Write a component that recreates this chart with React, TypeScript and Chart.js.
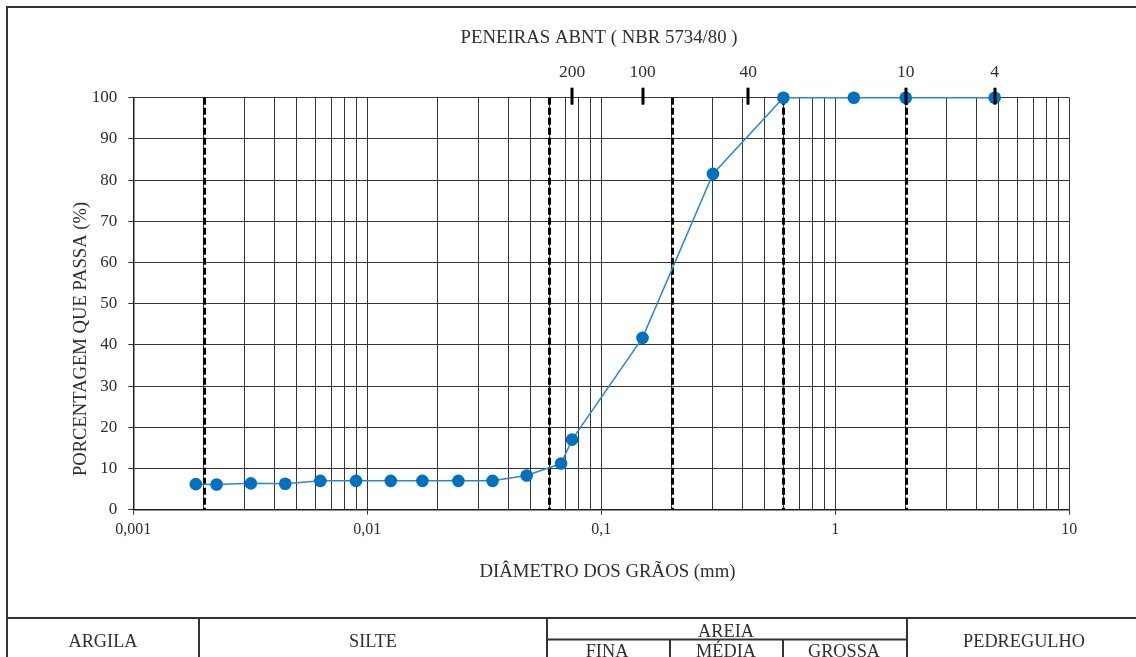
import React, { useEffect, useRef } from "react";
import { Chart, registerables } from "chart.js";

Chart.register(...registerables);

// ---- Data ----
const diameters = [
  0.00185, 0.00227, 0.00318, 0.00446, 0.0063, 0.00895, 0.0126, 0.0172, 0.0245,
  0.0343, 0.048, 0.0673, 0.075, 0.15, 0.3, 0.6, 1.2, 2.0, 4.8,
];
const percentPassing = [
  6.2, 6.1, 6.4, 6.3, 7.0, 7.0, 7.0, 7.0, 7.0, 7.0, 8.3, 11.2, 17.0, 41.7, 81.5,
  100, 100, 100, 100,
];

// Sieves (ABNT) shown on top axis
const sieveLabels = ["200", "100", "40", "10", "4"];
const sieveOpenings = [0.075, 0.15, 0.425, 2.0, 4.8];

// Soil fraction boundaries (dashed lines)
const boundaries = [0.002, 0.06, 0.2, 0.6, 2.0];

// Axis ticks
const decades = [0.001, 0.01, 0.1, 1];
const multipliers = [1, 2, 3, 4, 5, 6, 7, 8, 9];
const majorTickValues = [0.001, 0.01, 0.1, 1, 10];
const majorTickLabels = ["0,001", "0,01", "0,1", "1", "10"];
const yTickStep = 10;

const gridValues: number[] = [];
decades.forEach((d) =>
  multipliers.forEach((m) => gridValues.push(Number((d * m).toPrecision(6))))
);
gridValues.push(10);

const FONT = "'Liberation Serif', 'Times New Roman', serif";
const TEXT = "#2e2e2e";
const GRID = "#363636";

const isMajor = (v: number) =>
  majorTickValues.some((m) => Math.abs(m - v) / m < 1e-6);
const labelFor = (v: number) => {
  const i = majorTickValues.findIndex((m) => Math.abs(m - v) / m < 1e-6);
  return i >= 0 ? majorTickLabels[i] : "";
};

const decorPlugin = {
  id: "decor",
  beforeDraw(chart: any) {
    const ctx = chart.ctx;
    ctx.save();
    ctx.fillStyle = "#ffffff";
    ctx.fillRect(0, 0, chart.width, chart.height);
    ctx.restore();
  },
  beforeDatasetsDraw(chart: any) {
    const ctx = chart.ctx;
    const xs = chart.scales.x;
    const area = chart.chartArea;
    ctx.save();
    ctx.strokeStyle = "#000000";
    ctx.lineWidth = 3;
    ctx.setLineDash([7, 3]);
    boundaries.forEach((b) => {
      const px = Math.round(xs.getPixelForValue(b)) + 0.5;
      ctx.beginPath();
      ctx.moveTo(px, area.top);
      ctx.lineTo(px, area.bottom);
      ctx.stroke();
    });
    ctx.restore();
  },
  afterDraw(chart: any) {
    const ctx = chart.ctx;
    const xs = chart.scales.x;
    const area = chart.chartArea;
    ctx.save();

    // sieve ticks and labels
    sieveOpenings.forEach((s, i) => {
      const px = xs.getPixelForValue(s);
      ctx.fillStyle = "#000000";
      ctx.fillRect(Math.round(px) - 1.5, area.top - 10, 3, 17);
      ctx.font = `17.5px ${FONT}`;
      ctx.fillStyle = TEXT;
      ctx.textAlign = "center";
      ctx.textBaseline = "alphabetic";
      ctx.fillText(sieveLabels[i], px, 77);
    });

    // titles
    ctx.fillStyle = TEXT;
    ctx.textAlign = "center";
    ctx.textBaseline = "alphabetic";
    ctx.font = `18.8px ${FONT}`;
    ctx.fillText("PENEIRAS ABNT ( NBR 5734/80 )", 599, 43);
    ctx.fillText("DIÂMETRO DOS GRÃOS (mm)", 607.5, 577);

    ctx.save();
    ctx.translate(86, 339);
    ctx.rotate(-Math.PI / 2);
    ctx.font = `18.6px ${FONT}`;
    ctx.fillText("PORCENTAGEM QUE PASSA (%)", 0, 0);
    ctx.restore();

    // outer frame + table
    ctx.strokeStyle = "#333333";
    ctx.lineWidth = 2;
    ctx.beginPath();
    ctx.moveTo(7, 657);
    ctx.lineTo(7, 7);
    ctx.lineTo(1136, 7);
    ctx.stroke();

    ctx.lineWidth = 2;
    ctx.beginPath();
    ctx.moveTo(7, 618);
    ctx.lineTo(1136, 618);
    ctx.moveTo(199, 618);
    ctx.lineTo(199, 657);
    ctx.moveTo(547, 618);
    ctx.lineTo(547, 657);
    ctx.moveTo(907, 618);
    ctx.lineTo(907, 657);
    ctx.moveTo(547, 639.5);
    ctx.lineTo(907, 639.5);
    ctx.moveTo(670, 639.5);
    ctx.lineTo(670, 657);
    ctx.moveTo(783, 639.5);
    ctx.lineTo(783, 657);
    ctx.stroke();

    ctx.fillStyle = TEXT;
    ctx.font = `18.3px ${FONT}`;
    ctx.fillText("ARGILA", 103, 647);
    ctx.fillText("SILTE", 373, 647);
    ctx.fillText("AREIA", 726, 637);
    ctx.fillText("FINA", 607, 657);
    ctx.fillText("MÉDIA", 726, 657);
    ctx.fillText("GROSSA", 844, 657);
    ctx.fillText("PEDREGULHO", 1024, 647);

    ctx.restore();
  },
};

export default function App() {
  const canvasRef = useRef<HTMLCanvasElement | null>(null);

  useEffect(() => {
    if (!canvasRef.current) return;
    const points = diameters.map((x, i) => ({ x, y: percentPassing[i] }));
    const chart = new Chart(canvasRef.current, {
      type: "line",
      data: {
        datasets: [
          {
            data: points,
            borderColor: "#2B87D3",
            borderWidth: 1.5,
            pointBackgroundColor: "#0070C0",
            pointBorderColor: "#0070C0",
            pointBorderWidth: 0,
            pointRadius: 6.3,
            tension: 0,
            clip: false as any,
          },
        ],
      },
      options: {
        responsive: false,
        animation: false,
        devicePixelRatio: 1,
        layout: { padding: { left: 0, right: 66.7, top: 97.7, bottom: 0 } },
        plugins: {
          legend: { display: false },
          tooltip: { enabled: false },
          title: { display: false },
        },
        scales: {
          x: {
            type: "logarithmic",
            min: 0.001,
            max: 10,
            afterBuildTicks: (s: any) => {
              s.ticks = gridValues.map((v) => ({ value: v, major: isMajor(v) }));
            },
            afterFit: (s: any) => {
              s.height = 657 - 509.7;
            },
            ticks: {
              autoSkip: false,
              maxRotation: 0,
              minRotation: 0,
              padding: 5,
              color: TEXT,
              font: { family: FONT, size: 16 },
              callback: (v: any) => labelFor(Number(v)),
            },
            grid: {
              color: GRID,
              lineWidth: 1,
              tickLength: 5,
              tickColor: (c: any) =>
                c.tick && isMajor(c.tick.value) ? "#333333" : "rgba(0,0,0,0)",
            },
            border: { color: "#1e1e1e", width: 1.5 },
          },
          y: {
            min: 0,
            max: 100,
            afterFit: (s: any) => {
              s.width = 133.3;
            },
            ticks: {
              stepSize: yTickStep,
              padding: 11,
              color: TEXT,
              font: { family: FONT, size: 17 },
            },
            grid: {
              color: GRID,
              lineWidth: 1,
              tickLength: 5,
              tickColor: "#333333",
            },
            border: { color: "#1e1e1e", width: 1.5 },
          },
        },
      },
      plugins: [decorPlugin],
    } as any);
    return () => chart.destroy();
  }, []);

  return (
    <div
      style={{
        position: "absolute",
        left: 0,
        top: 0,
        width: 1136,
        height: 657,
        background: "#ffffff",
        overflow: "hidden",
      }}
    >
      <canvas
        ref={canvasRef}
        width={1136}
        height={657}
        style={{ display: "block", width: 1136, height: 657 }}
      />
    </div>
  );
}
